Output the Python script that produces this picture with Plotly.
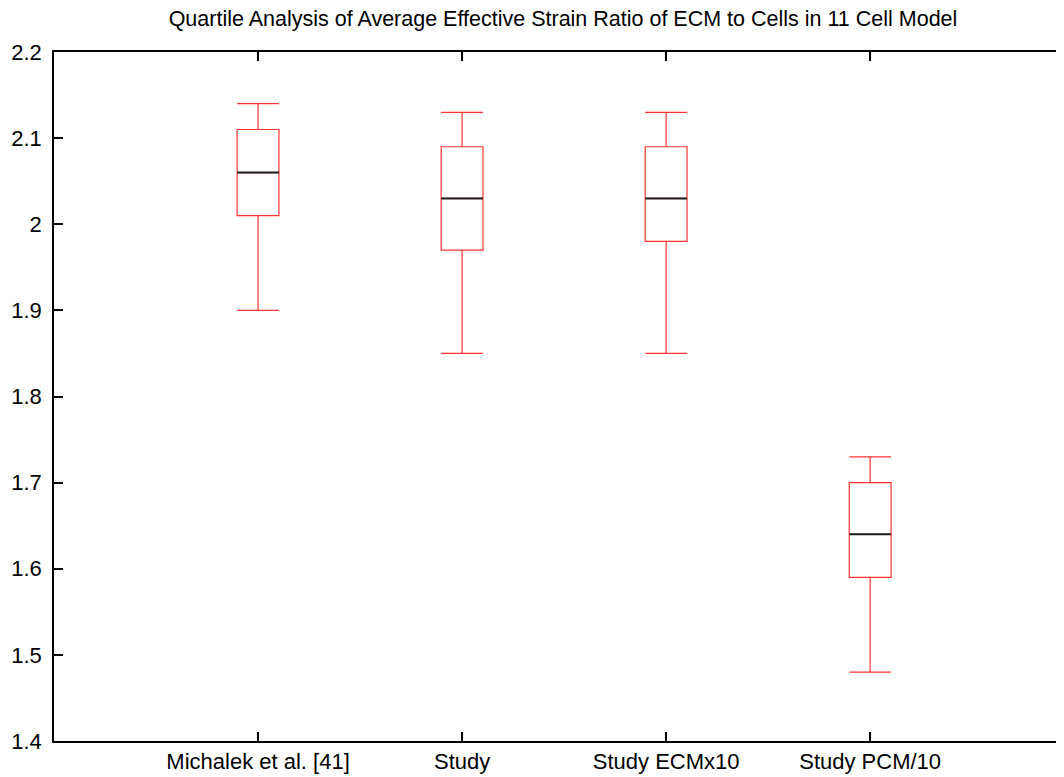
import plotly.graph_objects as go

categories = ["Michalek et al. [41]", "Study", "Study ECMx10", "Study PCM/10"]
positions = [1, 2, 3, 4]
lower_whisker = [1.90, 1.85, 1.85, 1.48]
q1 = [2.01, 1.97, 1.98, 1.59]
median = [2.06, 2.03, 2.03, 1.64]
q3 = [2.11, 2.09, 2.09, 1.70]
upper_whisker = [2.14, 2.13, 2.13, 1.73]
y_ticks = [1.4, 1.5, 1.6, 1.7, 1.8, 1.9, 2.0, 2.1, 2.2]
y_tick_labels = ["1.4", "1.5", "1.6", "1.7", "1.8", "1.9", "2", "2.1", "2.2"]

BOX_W = 0.205
FONT = "Liberation Sans, Arial, Helvetica, sans-serif"
W, H = 1056, 769  # page body has an 8px margin

fig = go.Figure()
fig.add_trace(go.Box(
    x=positions, q1=q1, median=median, q3=q3,
    lowerfence=lower_whisker, upperfence=upper_whisker,
    width=BOX_W, whiskerwidth=1,
    line=dict(color="rgb(255,50,50)", width=1.2),
    fillcolor="rgba(0,0,0,0)",
    boxpoints=False, hoverinfo="skip", showlegend=False,
))

mx, my = [], []
for p, m in zip(positions, median):
    mx += [p - BOX_W / 2, p + BOX_W / 2, None]
    my += [m, m, None]
fig.add_trace(go.Scatter(x=mx, y=my, mode="lines",
                         line=dict(color="rgb(30,30,30)", width=2),
                         hoverinfo="skip", showlegend=False))
fig.add_trace(go.Scatter(x=[None], y=[None], yaxis="y2", showlegend=False))

fig.update_layout(
    width=W, height=H,
    margin=dict(l=46, r=0, t=44, b=36, autoexpand=False),
    paper_bgcolor="white", plot_bgcolor="white",
    font=dict(family=FONT, size=22, color="black"),
    title=dict(text="Quartile Analysis of Average Effective Strain Ratio of ECM to Cells in 11 Cell Model",
               x=555 / W, xref="container", xanchor="center",
               y=1 - 3 / H, yref="container", yanchor="top", pad=dict(t=0, b=0),
               font=dict(family=FONT, size=21.5, color="black")),
    xaxis=dict(range=[0, 4.95], tickvals=positions, ticktext=categories,
               showgrid=False, zeroline=False, showline=True, linecolor="black",
               linewidth=1.5, mirror="ticks", ticks="inside", ticklen=9,
               tickwidth=1.5, tickcolor="black", automargin=False,
               tickfont=dict(size=22)),
    yaxis=dict(range=[1.4, 2.2], tickvals=y_ticks, ticktext=y_tick_labels,
               showgrid=False, zeroline=False, showline=True, linecolor="black",
               linewidth=1.5, ticks="inside", ticklen=9, tickwidth=1.5,
               tickcolor="black", automargin=False, ticklabelstandoff=6,
               tickfont=dict(size=22)),
    yaxis2=dict(range=[1.4, 2.2], tickvals=y_ticks, overlaying="y", side="right",
                showticklabels=False, showgrid=False, zeroline=False,
                showline=False, ticks="inside", ticklen=2, tickwidth=1.5,
                tickcolor="black"),
)

fig.write_html("out.html")
